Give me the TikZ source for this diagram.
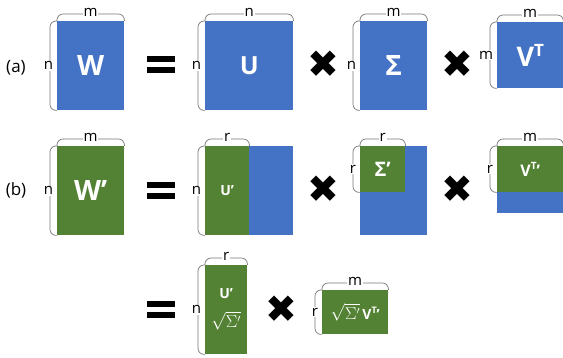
\documentclass[tikz,border=0pt]{standalone}
\usepackage{fontspec}
\setmainfont{Open Sans}
\newfontfamily\symfont{DejaVu Sans}
\usetikzlibrary{positioning, calc}
\definecolor{mblue}{RGB}{68,114,196}
\definecolor{mgreen}{RGB}{84,130,53}
\definecolor{bgray}{RGB}{120,120,120}

% brace above a box side: name, left end, right end, label
\newcommand{\topbrace}[4]{%
  \draw[brace] (#2) -- ++(0,-7) -- ($(#3)+(0,-7)$) -- (#3);
  \node[dimlbl] (#1) at ($(#2)!0.5!(#3)+(0,-9)$) {#4};}
% brace left of a box side: name, top end, bottom end, label
\newcommand{\leftbrace}[4]{%
  \draw[brace] (#2) -- ++(-7,0) -- ($(#3)+(-7,0)$) -- (#3);
  \node[dimlbl, anchor=east] (#1) at ($(#2)!0.5!(#3)+(-3,0)$) {#4};}
% superscript T: size, raise
\newcommand{\supT}[2]{\raisebox{#2}{\fontsize{#1}{#1}\selectfont T}}

\begin{document}
\begin{tikzpicture}[
  x=1pt, y=-1pt,
  mat/.style    = {rectangle, fill=#1, anchor=north west, inner sep=0pt,
                   text=white, align=center},
  brace/.style  = {bgray, line width=0.7pt, rounded corners=6pt},
  dimlbl/.style = {fill=white, inner sep=0.8pt, font=\fontsize{15}{15}\selectfont},
  rowlbl/.style = {font=\fontsize{17}{17}\selectfont},
  times/.style  = {inner sep=0pt, font=\symfont\fontsize{38}{38}\selectfont},
  eqsign/.style = {minimum width=28pt, minimum height=17pt, inner sep=0pt,
                   path picture={
                     \fill (path picture bounding box.north west) rectangle
                           ([yshift=-6pt]path picture bounding box.north east);
                     \fill (path picture bounding box.south west) rectangle
                           ([yshift=6pt]path picture bounding box.south east);}},
  intext/.style = {inner sep=0pt, text=white},
  big/.style    = {font=\bfseries\fontsize{28}{28}\selectfont},
  mid/.style    = {font=\bfseries\fontsize{25}{25}\selectfont},
  small/.style  = {font=\bfseries\fontsize{14}{15}\selectfont},
]
\useasboundingbox (0,0) rectangle (563,358);
% Row (a): W = U x Sigma x V^T
\node[rowlbl] (lbla) at (16,68) {(a)};
\node[mat=mblue, big, minimum width=67pt, minimum height=89pt] (W) at (57,21) {W};
\node[eqsign] (eqa) at (161,65) {};
\node[mat=mblue, mid, minimum width=88pt, minimum height=89pt] (U) at (205,21) {U};
\node[times] (xa1) at (323,64) {✖};
\node[mat=mblue, font=\bfseries\fontsize{28}{28}\selectfont,
      minimum width=67pt, minimum height=89pt] (S) at (360,21) {Σ};
\node[times] (xa2) at (457,64) {✖};
\node[mat=mblue, font=\bfseries\fontsize{27}{27}\selectfont,
      minimum width=66pt, minimum height=66pt] (VT) at (497,22)
  {V\supT{17}{10.5pt}};
% Row (b): truncated factors
\node[rowlbl] (lblb) at (16,190) {(b)};
\node[mat=mgreen, big, minimum width=67pt, minimum height=89pt] (Wp) at (57,146) {W’};
\node[eqsign] (eqb) at (161,191) {};
\node[mat=mblue, minimum width=88pt, minimum height=89pt] (Ub) at (205,146) {};
\node[mat=mgreen, small, minimum width=44pt, minimum height=89pt] (Up) at (205,146) {U’};
\node[times] (xb1) at (323,189) {✖};
\node[mat=mblue, minimum width=67pt, minimum height=89pt] (Sb) at (360,146) {};
\node[mat=mgreen, font=\bfseries\fontsize{20}{20}\selectfont,
      minimum width=45pt, minimum height=46pt] (Sp) at (360,146) {Σ’};
\node[times] (xb2) at (457,189) {✖};
\node[mat=mblue, minimum width=66pt, minimum height=67pt] (VTb) at (497,146) {};
\node[mat=mgreen, font=\bfseries\fontsize{16}{16}\selectfont,
      minimum width=66pt, minimum height=46pt] (VTp) at (497,146)
  {V\supT{10}{6.5pt}’};
% Row (c): split singular values
\node[eqsign] (eqc) at (161,310) {};
\node[mat=mgreen, minimum width=42pt, minimum height=89pt] (US) at (205,265) {};
\node[intext, small] (USu) at ($(US.center)+(0,-16)$) {U’};
\node[intext, font=\fontsize{16}{16}\selectfont] (USs) at ($(US.center)+(0,11)$)
  {$\sqrt{\Sigma'}$};
\node[times] (xc) at (281,309) {✖};
\node[mat=mgreen, small, minimum width=66pt, minimum height=44pt] (SV) at (322,290)
  {{\normalfont\fontsize{16}{16}\selectfont$\sqrt{\Sigma'}$}\,V\supT{9}{6pt}’};
% Dimension braces
\topbrace{mW}{W.north west}{W.north east}{m}
\leftbrace{nW}{W.north west}{W.south west}{n}
\topbrace{nU}{U.north west}{U.north east}{n}
\leftbrace{nU2}{U.north west}{U.south west}{n}
\topbrace{mS}{S.north west}{S.north east}{m}
\leftbrace{nS}{S.north west}{S.south west}{n}
\topbrace{mV}{VT.north west}{VT.north east}{m}
\leftbrace{mV2}{VT.north west}{VT.south west}{m}
\topbrace{mWp}{Wp.north west}{Wp.north east}{m}
\leftbrace{nWp}{Wp.north west}{Wp.south west}{n}
\topbrace{rUp}{Up.north west}{Up.north east}{r}
\leftbrace{nUp}{Up.north west}{Up.south west}{n}
\topbrace{rSp}{Sp.north west}{Sp.north east}{r}
\leftbrace{rSp2}{Sp.north west}{Sp.south west}{r}
\topbrace{mVp}{VTp.north west}{VTp.north east}{m}
\leftbrace{rVp}{VTp.north west}{VTp.south west}{r}
\topbrace{rUS}{US.north west}{US.north east}{r}
\leftbrace{nUS}{US.north west}{US.south west}{n}
\topbrace{mSV}{SV.north west}{SV.north east}{m}
\leftbrace{rSV}{SV.north west}{SV.south west}{r}
\end{tikzpicture}
\end{document}
